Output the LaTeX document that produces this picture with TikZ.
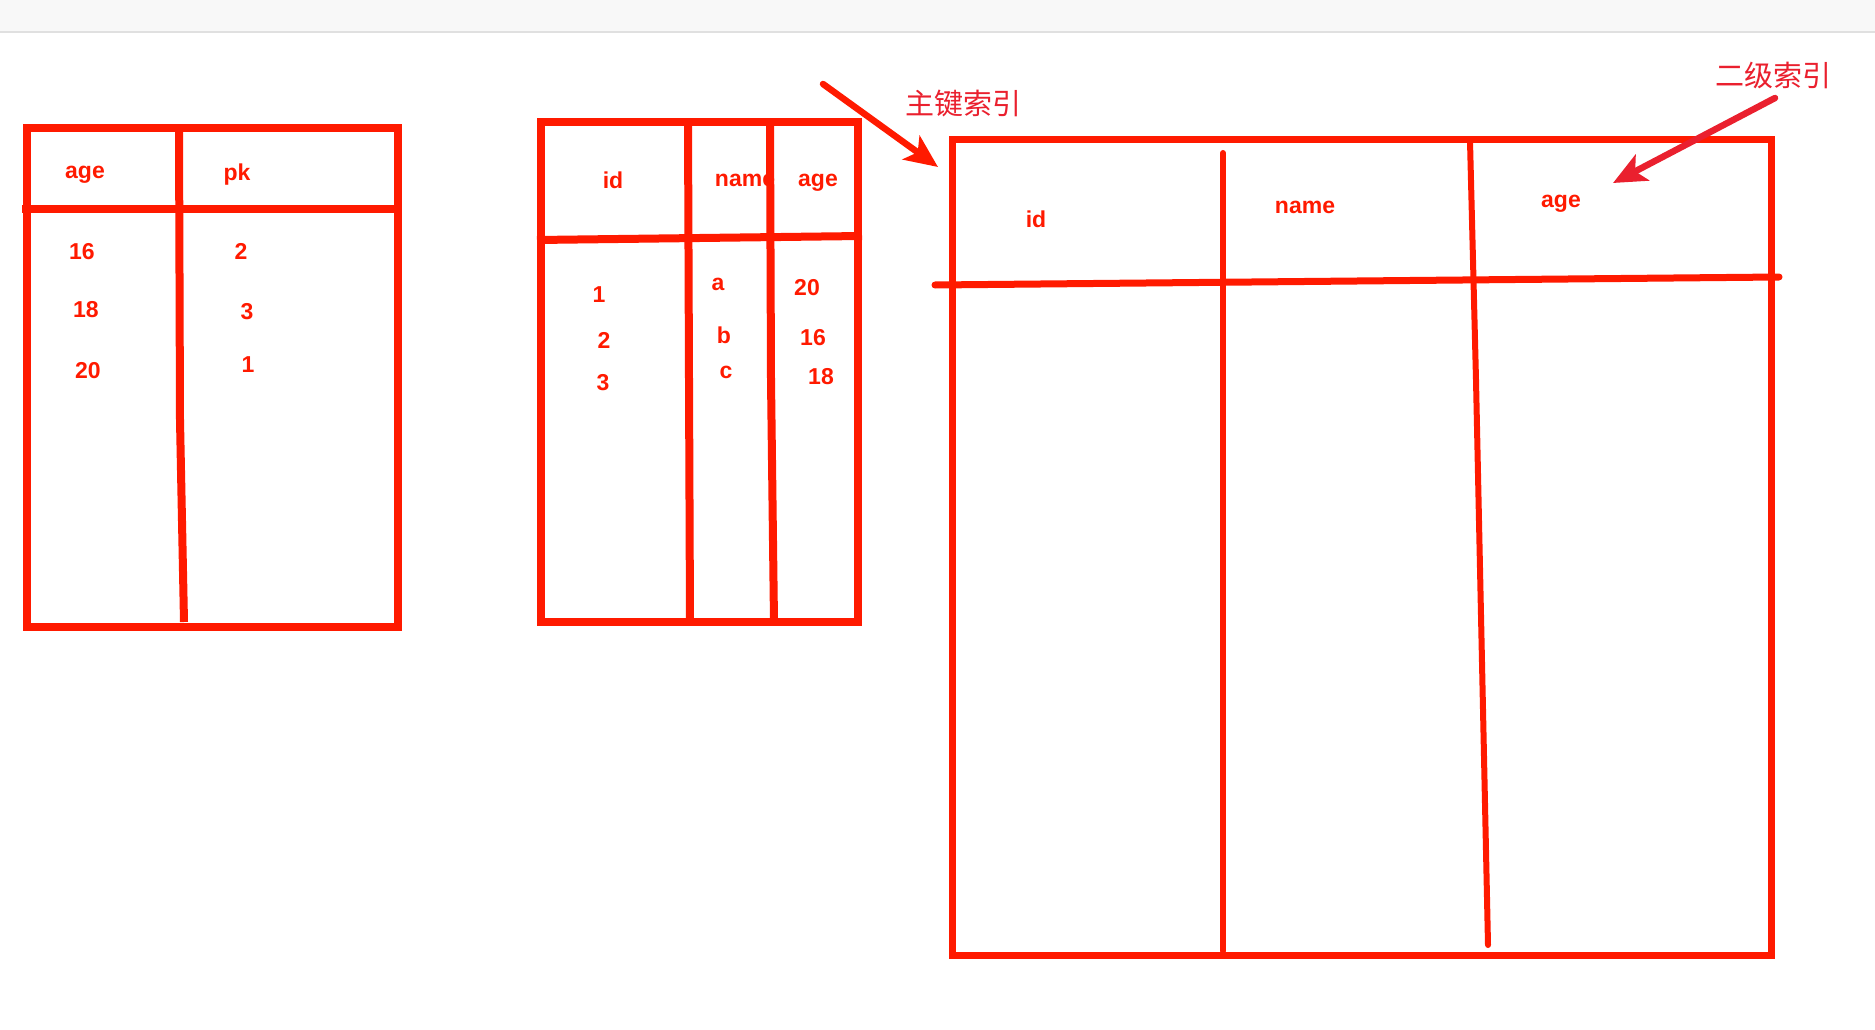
\documentclass[tikz,border=0pt]{standalone}
\usepackage{fontspec}
\setmainfont{Liberation Sans}
\newfontfamily\cjk{Noto Sans CJK SC}
\usetikzlibrary{arrows.meta}
\definecolor{tred}{RGB}{255,26,0}
\definecolor{ared}{RGB}{234,32,46}
\definecolor{topgray}{RGB}{248,248,248}
\definecolor{edgegray}{RGB}{224,224,224}
\begin{document}
\begin{tikzpicture}[x=1pt,y=-1pt,
  tline/.style={draw=tred,line width=8pt},
  thin3/.style={draw=tred,line width=6pt},
  cell/.style={text=tred,font=\fontsize{23}{23}\selectfont\bfseries,inner sep=0pt,anchor=center},
  note/.style={text=ared,font=\cjk\fontsize{29}{29}\selectfont,inner sep=0pt,anchor=center},
  pointer/.style={line width=6.5pt,line cap=round,-{Stealth[length=33pt,width=29pt,inset=8pt]}}]
\useasboundingbox (0,0) rectangle (1875,1030);
\fill[white] (0,0) rectangle (1875,1030);
\fill[topgray] (0,0) rectangle (1875,31);
\draw[edgegray,line width=2pt] (0,32) -- (1875,32);

% ---- table 1
\draw[tline] (27,128) rectangle (398,627);
\draw[tline] (22,209) -- (396,209);
\draw[tline] (179,128) -- (180,420) -- (184,622);
\node[cell] (t1h1) at (85,175) {age};
\node[cell] (t1h2) at (237,175) {pk};
\node[cell] (t1a1) at (82,252) {16};
\node[cell] (t1b1) at (241,251) {2};
\node[cell] (t1a2) at (86,310) {18};
\node[cell] (t1b2) at (247,312) {3};
\node[cell] (t1a3) at (88,371) {20};
\node[cell] (t1b3) at (248,365) {1};

% ---- table 2
\node[cell] (t2h2) at (745,180) {name};
\draw[tline] (541,122) rectangle (858,622);
\draw[tline] (537,240) -- (862,236);
\draw[tline] (688,122) -- (689,380) -- (690,622);
\draw[tline] (770,122) -- (771,380) -- (774,622);
\node[cell] (t2h1) at (613,180) {id};
\node[cell] (t2h3) at (818,183) {age};
\node[cell] (t2a1) at (599,295) {1};
\node[cell] (t2a2) at (604,340) {2};
\node[cell] (t2a3) at (603,383) {3};
\node[cell] (t2b1) at (718,284) {a};
\node[cell] (t2b2) at (724,335) {b};
\node[cell] (t2b3) at (726,372) {c};
\node[cell] (t2c1) at (807,288) {20};
\node[cell] (t2c2) at (813,338) {16};
\node[cell] (t2c3) at (821,377) {18};

% ---- table 3
\draw[draw=tred,line width=7pt] (952,140) rectangle (1771,955);
\draw[draw=tred,line width=7pt,line cap=round] (935,285) -- (1779,277);
\draw[thin3,line cap=round] (1223,153) -- (1223,951);
\draw[thin3,line cap=round] (1470,141) -- (1476,380) -- (1488,945);
\node[cell] (t3h1) at (1036,219) {id};
\node[cell] (t3h2) at (1305,207) {name};
\node[cell] (t3h3) at (1561,204) {age};

% ---- annotations
\node[note] (pk) at (963,104) {主键索引};
\node[note] (sk) at (1773,75) {二级索引};
\coordinate (a1s) at (823,84);
\coordinate (a1e) at (938,167);
\coordinate (a2s) at (1775,98);
\coordinate (a2e) at (1613,183);
\draw[pointer,draw=tred,fill=tred] (a1s) -- (a1e);
\draw[pointer,draw=ared,fill=ared] (a2s) -- (a2e);
\end{tikzpicture}
\end{document}
